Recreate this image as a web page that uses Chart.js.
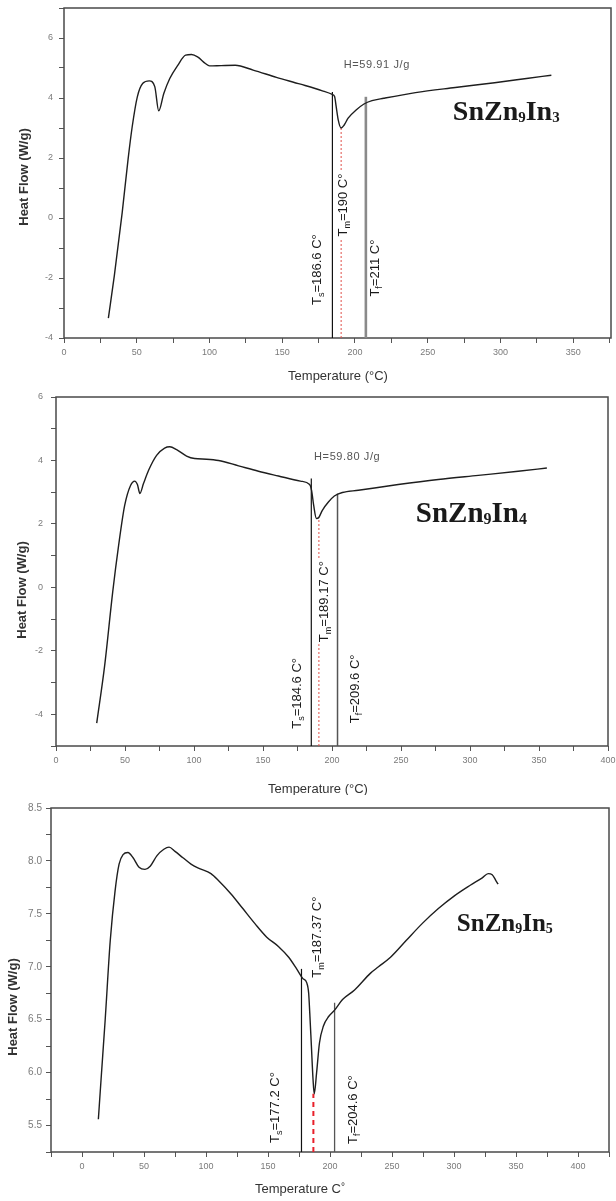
<!DOCTYPE html>
<html>
<head>
<meta charset="utf-8">
<title>DSC curves SnZn9In</title>
<script src="https://cdn.jsdelivr.net/npm/chart.js@4.4.1/dist/chart.umd.min.js"></script>
<style>
  body { margin: 0; background: #fff; }
  #page { position: relative; width: 616px; height: 1201px; overflow: hidden; }
  .panel { position: absolute; left: 0; width: 616px; }
</style>
</head>
<body>
<div id="page">
  <div class="panel" style="top:0;height:385px"><canvas id="dsc3"></canvas></div>
  <div class="panel" style="top:385px;height:410px"><canvas id="dsc4"></canvas></div>
  <div class="panel" style="top:795px;height:406px"><canvas id="dsc5"></canvas></div>
</div>
<script>
// ---- data ----
const temp3 = [30.5, 34.6, 40, 44, 46.9, 50.4, 54.2, 58.6, 62.4, 65.1, 68.6, 72.7, 78.2, 83.6, 87.7, 91.8, 97.2, 100, 108, 117.7,
  130, 146, 162.6, 177.6, 184.4, 186, 187.1, 188.5, 190.4, 192.6, 195.3, 200.8, 206.2, 211.7, 219.8, 241.6, 268.9, 296, 317.9, 335];
const flow3 = [-3.34, -1.92, 0.18, 1.94, 3.05, 4.04, 4.49, 4.57, 4.38, 3.57, 4.15, 4.65, 5.09, 5.43, 5.45, 5.37, 5.15, 5.07, 5.08, 5.09,
  4.93, 4.69, 4.46, 4.24, 4.12, 4.05, 3.71, 3.27, 3.0, 3.1, 3.33, 3.6, 3.8, 3.91, 3.99, 4.18, 4.35, 4.51, 4.65, 4.76];

const temp4 = [29.5, 35.3, 41.1, 45.4, 49.8, 54.1, 57, 59, 60.8, 63.4, 67.1, 72.9, 78.7, 82.5, 87.4, 94.6, 100.4, 109.1, 117.8,
  132.3, 146.7, 161.2, 177.1, 183.8, 185.2, 186.7, 188.7, 190.2, 193, 197.4, 201.7, 207.5, 219.1, 248, 277, 306, 334.9, 355.7];
const flow4 = [-4.28, -2.45, -0.14, 1.33, 2.59, 3.22, 3.35, 3.24, 2.96, 3.27, 3.69, 4.16, 4.39, 4.43, 4.34, 4.14, 4.06, 4.04, 4.0,
  3.83, 3.66, 3.51, 3.35, 3.24, 3.06, 2.59, 2.17, 2.19, 2.43, 2.69, 2.88, 2.99, 3.06, 3.24, 3.4, 3.53, 3.66, 3.76];

const temp5 = [13.2, 15.4, 18.7, 22.8, 26.7, 29.9, 33.1, 37, 41.2, 46, 50.8, 55, 60.5, 66, 70.2, 75, 81.4, 87.9, 94.3, 104,
  110.4, 120, 129.7, 139.3, 149, 158.6, 166.7, 173.1, 178, 181.2, 182.8, 183.7, 185, 186.3, 187.3, 189.2, 191.5, 194.7, 198.9,
  203.7, 210.1, 219.8, 232.7, 239.1, 248.8, 261.6, 274.5, 287.4, 300.3, 313.1, 322.8, 327.6, 330.8, 334, 335.6];
const flow5 = [5.56, 5.94, 6.5, 7.25, 7.72, 7.97, 8.06, 8.08, 8.03, 7.94, 7.92, 7.95, 8.05, 8.11, 8.13, 8.09, 8.03, 7.97, 7.93, 7.88,
  7.81, 7.69, 7.55, 7.41, 7.28, 7.19, 7.09, 6.98, 6.89, 6.85, 6.75, 6.56, 6.25, 5.94, 5.8, 6.0, 6.28, 6.44, 6.53,
  6.59, 6.69, 6.78, 6.94, 7.0, 7.09, 7.25, 7.41, 7.55, 7.67, 7.77, 7.84, 7.88, 7.87, 7.81, 7.78];

// solidus / melting / liquidus markers: x position and height of each vertical line
const markT3 = [184.5, 190.5, 207.5];
const markTop3 = [4.2, 3.0, 4.04];
const markT4 = [185, 190.5, 204];
const markTop4 = [3.43, 2.2, 2.95];
const markT5 = [177, 186.6, 203.7];
const markTop5 = [6.98, 5.8, 6.66];

const markText3 = [['T', 's', '=186.6 C°'], ['T', 'm', '=190 C°'], ['T', 'f', '=211 C°']];
const markText4 = [['T', 's', '=184.6 C°'], ['T', 'm', '=189.17 C°'], ['T', 'f', '=209.6 C°']];
const markText5 = [['T', 's', '=177.2 C°'], ['T', 'm', '=187.37 C°'], ['T', 'f', '=204.6 C°']];

const enthalpy = ['H=59.91 J/g', 'H=59.80 J/g'];
const alloys = [['SnZn', '9', 'In', '3'], ['SnZn', '9', 'In', '4'], ['SnZn', '9', 'In', '5']];

// labelled ticks
const xLabels3 = [0, 50, 100, 150, 200, 250, 300, 350];
const yLabels3 = [-4, -2, 0, 2, 4, 6];
const xLabels4 = [0, 50, 100, 150, 200, 250, 300, 350, 400];
const yLabels4 = [-4, -2, 0, 2, 4, 6];
const xLabels5 = [0, 50, 100, 150, 200, 250, 300, 350, 400];
const yLabels5 = [5.5, 6.0, 6.5, 7.0, 7.5, 8.0, 8.5];

const SANS = '"Liberation Sans", Arial, sans-serif';
const SERIF = '"Liberation Serif", "Times New Roman", serif';

function drawNote(ctx, note, px, py) {
  const base = note.parts[0].size;
  ctx.save();
  ctx.translate(px, py);
  if (note.rotate) ctx.rotate(-Math.PI / 2);
  ctx.textAlign = 'left';
  ctx.textBaseline = 'alphabetic';
  ctx.letterSpacing = note.spacing || '0px';
  const runs = note.parts.map(p => {
    const font = (p.weight || 'normal') + ' ' + p.size + 'px ' + (p.family || SANS);
    ctx.font = font;
    return { p, font, w: ctx.measureText(p.text).width };
  });
  const total = runs.reduce((s, r) => s + r.w, 0);
  if (note.bg) {
    ctx.fillStyle = '#fff';
    ctx.fillRect(-total / 2 - 2, -base * 0.55, total + 4, base * 1.2);
  }
  ctx.fillStyle = note.color || '#222';
  let cx = -total / 2;
  runs.forEach(r => {
    ctx.font = r.font;
    ctx.fillText(r.p.text, cx, base * 0.36 + (r.p.dy || 0));
    cx += r.w;
  });
  ctx.restore();
}

// frame round the plot and the free text
const decor = {
  id: 'decor',
  beforeDatasetsDraw(chart) {
    const { ctx, chartArea: a } = chart;
    ctx.save();
    ctx.strokeStyle = '#4a4a4a';
    ctx.lineWidth = 1.5;
    ctx.strokeRect(a.left, a.top, a.right - a.left, a.bottom - a.top);
    ctx.restore();
  },
  afterDatasetsDraw(chart, args, opts) {
    const { ctx, scales } = chart;
    (opts.notes || []).forEach(n => {
      const px = n.px ? n.x : scales.x.getPixelForValue(n.x);
      const py = n.px ? n.y : scales.y.getPixelForValue(n.y);
      drawNote(ctx, n, px, py);
    });
  }
};

function axis(min, max, step, labels, fmt, pad, size, isX, fontSize) {
  return {
    type: 'linear', min, max,
    grid: { drawOnChartArea: false, drawTicks: true, tickLength: 5, color: '#555', lineWidth: 1 },
    border: { display: false },
    ticks: {
      stepSize: step, autoSkip: false, maxRotation: 0, includeBounds: false, padding: pad,
      color: '#7a7a7a', font: { family: SANS, size: fontSize },
      callback: v => labels.some(l => Math.abs(l - v) < 1e-6) ? fmt(v) : ''
    },
    afterFit(scale) {
      if (isX) scale.height = size; else scale.width = size;
      scale.paddingLeft = 0; scale.paddingRight = 0;
      scale.paddingTop = 0; scale.paddingBottom = 0;
    }
  };
}

function markLabel(txt, x, y, bg) {
  return {
    x, y, rotate: true, bg, color: '#1a1a1a',
    parts: [{ text: txt[0], size: 13 }, { text: txt[1], size: 9, dy: 3 }, { text: txt[2], size: 13 }]
  };
}

function alloyLabel(txt, x, y, size) {
  const sub = Math.round(size * 0.55);
  return {
    x, y, color: '#1a1a1a',
    parts: [
      { text: txt[0], size, weight: 'bold', family: SERIF },
      { text: txt[1], size: sub, weight: 'bold', family: SERIF, dy: 2 },
      { text: txt[2], size, weight: 'bold', family: SERIF },
      { text: txt[3], size: sub, weight: 'bold', family: SERIF, dy: 2 }
    ]
  };
}

function title(text, x, y, rotate, weight) {
  return { px: true, x, y, rotate, color: '#333', parts: [{ text, size: 13, weight }] };
}

function buildChart(id, s) {
  const datasets = [{
    data: s.temps.map((t, i) => ({ x: t, y: s.flows[i] })),
    borderColor: '#1e1e1e', borderWidth: 1.4, pointRadius: 0, fill: false,
    cubicInterpolationMode: 'monotone'
  }];
  s.markT.forEach((t, i) => {
    datasets.push(Object.assign({
      data: [{ x: t, y: s.y[0] }, { x: t, y: s.markTop[i] }],
      pointRadius: 0, fill: false
    }, s.markStyle[i]));
  });
  return new Chart(document.getElementById(id), {
    type: 'line',
    data: { datasets },
    options: {
      responsive: true,
      maintainAspectRatio: false,
      animation: false,
      layout: { padding: s.padding },
      plugins: { legend: { display: false }, tooltip: { enabled: false }, decor: { notes: s.notes } },
      scales: {
        x: axis(s.x[0], s.x[1], 25, s.xLabels, v => String(v), 4, s.xHeight, true, 9),
        y: axis(s.y[0], s.y[1], s.yStep, s.yLabels, s.yFmt, s.yPad, s.yWidth, false, s.yFont)
      }
    },
    plugins: [decor]
  });
}

const solid = { borderColor: '#111', borderWidth: 1.2 };
const dotted = { borderColor: '#e0504a', borderWidth: 1, borderDash: [2, 2] };

buildChart('dsc3', {
  temps: temp3, flows: flow3, markT: markT3, markTop: markTop3,
  markStyle: [solid, dotted, { borderColor: '#8a8a8a', borderWidth: 2.6 }],
  x: [0, 376], y: [-4, 7], yStep: 1, xLabels: xLabels3, yLabels: yLabels3, yFmt: v => String(v),
  padding: { top: 8, right: 5, left: 0, bottom: 0 }, xHeight: 47, yWidth: 64, yPad: 6, yFont: 9,
  notes: [
    markLabel(markText3[0], 173.5, -1.72, false),
    markLabel(markText3[1], 191.3, 0.43, true),
    markLabel(markText3[2], 213, -1.67, false),
    { x: 215, y: 5.13, color: '#555', spacing: '0.6px', parts: [{ text: enthalpy[0], size: 11 }] },
    alloyLabel(alloys[0], 304, 3.6, 28),
    title('Heat Flow (W/g)', 23, 177, true, 'bold'),
    title('Temperature (°C)', 338, 375, false, 'normal')
  ]
});

buildChart('dsc4', {
  temps: temp4, flows: flow4, markT: markT4, markTop: markTop4,
  markStyle: [solid, dotted, { borderColor: '#555', borderWidth: 1.5 }],
  x: [0, 400], y: [-5, 6], yStep: 1, xLabels: xLabels4, yLabels: yLabels4, yFmt: v => String(v),
  padding: { top: 12, right: 8, left: 0, bottom: 0 }, xHeight: 49, yWidth: 56, yPad: 8, yFont: 9,
  notes: [
    markLabel(markText4[0], 174.2, -3.34, false),
    markLabel(markText4[1], 193.5, -0.45, true),
    markLabel(markText4[2], 216.2, -3.2, false),
    { x: 211, y: 4.14, color: '#555', spacing: '0.6px', parts: [{ text: enthalpy[1], size: 11 }] },
    alloyLabel(alloys[1], 301, 2.38, 29),
    title('Heat Flow (W/g)', 21, 205, true, 'bold'),
    title('Temperature (°C)', 318, 403, false, 'normal')
  ]
});

buildChart('dsc5', {
  temps: temp5, flows: flow5, markT: markT5, markTop: markTop5,
  markStyle: [solid, { borderColor: '#e8202a', borderWidth: 2, borderDash: [5, 4] }, { borderColor: '#555', borderWidth: 1.3 }],
  x: [-25, 425], y: [5.25, 8.5], yStep: 0.25, xLabels: xLabels5, yLabels: yLabels5, yFmt: v => v.toFixed(1),
  padding: { top: 13, right: 7, left: 0, bottom: 0 }, xHeight: 49, yWidth: 51, yPad: 4, yFont: 10,
  notes: [
    markLabel(markText5[0], 155.4, 5.67, false),
    markLabel(markText5[1], 189.2, 7.28, false),
    markLabel(markText5[2], 218.2, 5.65, false),
    alloyLabel(alloys[2], 341, 7.42, 25),
    title('Heat Flow (W/g)', 12, 212, true, 'bold'),
    { px: true, x: 300, y: 393, color: '#333', parts: [{ text: 'Temperature C', size: 13 }, { text: '°', size: 10, dy: -3 }] }
  ]
});
</script>
</body>
</html>
